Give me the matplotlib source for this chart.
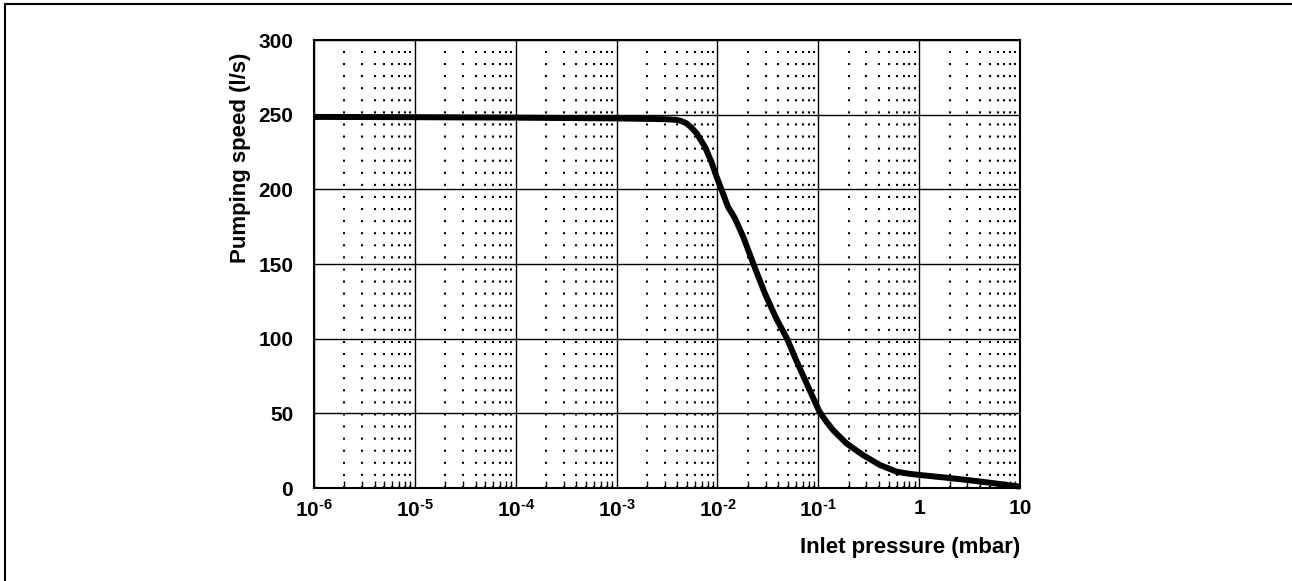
import matplotlib
matplotlib.use("Agg")
import matplotlib.pyplot as plt
from matplotlib.lines import Line2D
from matplotlib.ticker import FixedLocator, FixedFormatter

# Data
pressure_mbar = [1e-6, 1e-5, 1e-4, 1e-3, 3e-3, 3.9e-3, 4.4e-3, 4.9e-3, 5.5e-3, 6.2e-3,
                 7.5e-3, 8.7e-3, 9.8e-3, 1.1e-2, 1.27e-2, 1.49e-2, 1.8e-2, 2.26e-2,
                 2.95e-2, 3.8e-2, 4.9e-2, 6.0e-2, 7.4e-2, 8.8e-2, 0.102, 0.12, 0.14,
                 0.19, 0.277, 0.408, 0.6, 0.8, 1.02, 1.8, 2.97, 5.5, 10.0]
pumping_speed = [248.5, 248.3, 248.0, 247.5, 247.0, 246.5, 245.7, 244.3, 241.5, 237.6,
                 228.6, 218.6, 208.5, 199.6, 188.4, 180.6, 168.3, 150.5,
                 130.4, 114.0, 100.0, 86.0, 72.3, 61.0, 51.5, 44.5, 38.8,
                 29.9, 22.1, 15.4, 10.9, 9.5, 8.7, 7.0, 5.4, 3.2, 0.9]

x_major = [1e-6, 1e-5, 1e-4, 1e-3, 1e-2, 1e-1, 1, 10]
x_major_labels = ['$\\mathbf{10^{\u20106}}$', '$\\mathbf{10^{\u20105}}$',
                  '$\\mathbf{10^{\u20104}}$', '$\\mathbf{10^{\u20103}}$',
                  '$\\mathbf{10^{\u20102}}$', '$\\mathbf{10^{\u20101}}$',
                  '1', '10']
y_ticks = [0, 50, 100, 150, 200, 250, 300]
x_label = "Inlet pressure (mbar)"
y_label = "Pumping speed (l/s)"

plt.rcParams['font.family'] = ['Liberation Sans', 'DejaVu Sans']
plt.rcParams['font.weight'] = 'bold'
plt.rcParams['mathtext.fontset'] = 'custom'
plt.rcParams['mathtext.bf'] = 'Liberation Sans:bold'
plt.rcParams['mathtext.rm'] = 'Liberation Sans:bold'
plt.rcParams['mathtext.it'] = 'Liberation Sans:bold'

W, H = 1292, 581
fig = plt.figure(figsize=(W / 100, H / 100), dpi=100)
ax = fig.add_axes([314 / W, (H - 488) / H, (1020 - 314) / W, (488 - 40) / H])

ax.set_xscale('log')
ax.set_xlim(1e-6, 10)
ax.set_ylim(0, 300)

minor = [m * 10.0 ** e for e in range(-6, 1) for m in range(2, 10)]
ax.xaxis.set_major_locator(FixedLocator(x_major))
ax.xaxis.set_major_formatter(FixedFormatter(x_major_labels))
ax.xaxis.set_minor_locator(FixedLocator(minor))
ax.xaxis.set_minor_formatter(FixedFormatter([''] * len(minor)))
ax.set_yticks(y_ticks)
ax.set_yticklabels([str(v) for v in y_ticks])

ax.grid(which='major', axis='both', color='black', linewidth=1.0, linestyle='-')
ax.grid(which='minor', axis='x', color='black', linewidth=1.5,
        linestyle=(0, (1, 4.8)))
ax.set_axisbelow(True)

ax.tick_params(axis='both', which='major', length=0, labelsize=15, pad=8)
ax.tick_params(axis='y', which='major', pad=15)
ax.tick_params(axis='x', which='minor', direction='in', length=5, width=1.0,
               bottom=True)

for s in ax.spines.values():
    s.set_linewidth(1.5)
    s.set_color('black')

ax.plot(pressure_mbar, pumping_speed, color='black', linewidth=4.3,
        solid_capstyle='butt', solid_joinstyle='round', zorder=5, clip_on=False)

fig.text(1020 / W, (H - 548) / H, x_label, ha='right', va='center',
         fontsize=16, fontweight='bold')
fig.text(241 / W, (H - 263) / H, y_label, ha='center', va='bottom',
         rotation=90, fontsize=16, fontweight='bold')

# Outer frame (only top and left edges visible)
fig.add_artist(Line2D([5 / W, 5 / W], [0, (H - 4) / H], transform=fig.transFigure,
                      color='black', linewidth=1.5))
fig.add_artist(Line2D([5 / W, 1], [(H - 4) / H, (H - 4) / H], transform=fig.transFigure,
                      color='black', linewidth=1.5))

fig.savefig('out.png', dpi=100)
